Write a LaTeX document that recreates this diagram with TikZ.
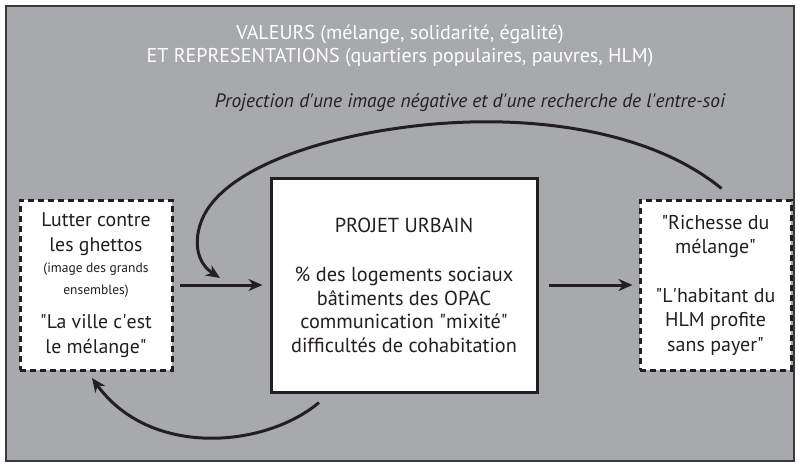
\documentclass[tikz,border=0pt]{standalone}
\usepackage{fontspec}
\setmainfont{PT Sans}
\usetikzlibrary{arrows.meta}
\definecolor{bggray}{HTML}{A8A9AC}
\definecolor{framec}{HTML}{3A3A3A}
\definecolor{inkc}{HTML}{231F20}
\newcommand{\mydq}{\textquotedbl}
\newcommand{\mysq}{\textquotesingle}
\tikzset{
  dashbox/.style={draw=inkc, fill=white, line width=3pt, dash pattern=on 6pt off 4pt, inner sep=0pt, align=center, text=inkc},
  solidbox/.style={draw=inkc, fill=white, line width=3pt, inner sep=0pt, align=center, text=inkc},
  arr/.style={draw=inkc, line width=3pt, -{Stealth[length=14pt,width=12pt]}},
  toptext/.style={text=white, align=center, font=\fontsize{20}{23}\selectfont},
}
\begin{document}
\begin{tikzpicture}[x=1pt,y=-1pt]
\useasboundingbox (0,0) rectangle (799,464);
\fill[white] (0,0) rectangle (799,464);
\draw[framec, line width=2pt, fill=bggray] (6,6) rectangle (794,461);

\node[toptext] (T1) at (400,46) {VALEURS (mélange, solidarité, égalité)\\ET REPRESENTATIONS (quartiers populaires, pauvres, HLM)};
\node[text=inkc, font=\fontsize{19.4}{20}\selectfont\itshape] (T2) at (470,103) {Projection d\mysq une image négative et d\mysq une recherche de l\mysq entre-soi};

\node[dashbox, minimum width=152pt, minimum height=170pt, font=\fontsize{19.8}{24.5}\selectfont] (L) at (96,285)
  {Lutter contre\\les ghettos\\[-3pt]{\fontsize{13.5}{21}\selectfont (image des grands}\\[-3pt]{\fontsize{13.5}{21}\selectfont ensembles)}\\[10pt]\mydq La ville c\mysq est\\le mélange\mydq};
\node[solidbox, minimum width=266pt, minimum height=214pt, font=\fontsize{20.3}{23.5}\selectfont] (C) at (404,285)
  {PROJET URBAIN\\[26pt]\% des logements sociaux\\bâtiments des OPAC\\communication \mydq mixité\mydq\\difficultés de cohabitation};
\node[dashbox, minimum width=151pt, minimum height=170pt, font=\fontsize{20}{24.5}\selectfont] (R) at (715.5,285)
  {\mydq Richesse du\\mélange\mydq\\[24pt]\mydq L\mysq habitant du\\HLM profite\\sans payer\mydq};

\draw[arr] ([xshift=6pt]L.east) -- ([xshift=-7pt]C.west);
\draw[arr] ([xshift=10pt]C.east) -- ([xshift=-6pt]R.west);

\draw[arr] ([shift={(6,-10)}]R.north) .. controls (650,130) and (540,120) .. (470,122)
   .. controls (360,125) and (220,160) .. (200,225)
   .. controls (193,248) and (200,265) .. (220,278);
\draw[arr] ([shift={(-85,9)}]C.south) .. controls (265,448) and (150,458) .. (92,378);
\end{tikzpicture}
\end{document}
